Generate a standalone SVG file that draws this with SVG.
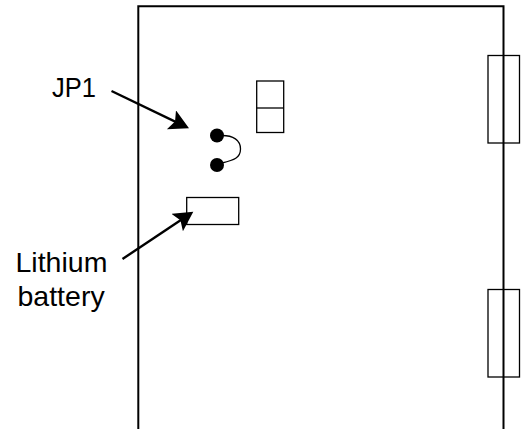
<svg xmlns="http://www.w3.org/2000/svg" width="527" height="429" viewBox="0 0 527 429">
<style>
.thin{fill:none;stroke:#000;stroke-width:1.3}
.thick{fill:none;stroke:#000;stroke-width:2}
.lead{fill:none;stroke:#000;stroke-width:2.4}
.lbl{font-family:"Liberation Sans",Arial,sans-serif;fill:#000}
.sm{font-size:27px}
.lg{font-size:28.5px}
</style>
<defs>
<marker id="arrow" markerUnits="userSpaceOnUse" markerWidth="24" markerHeight="24" refX="14.500" refY="10.500" orient="auto" viewBox="0 0 24 24"><path d="M0 0L19.500 10.500L0 21L4 10.500Z" fill="#000"/></marker>
</defs>
<rect width="527" height="429" fill="#fff"/>
<g id="enclosure"><path class="thick" d="M138.300 429V6.300H503.500V429"/></g>
<g id="hinge-top"><rect class="thin" x="488" y="55.500" width="31.500" height="87.500"/></g>
<g id="hinge-bottom"><rect class="thin" x="488" y="289.500" width="31.500" height="87.500"/></g>
<g id="switch"><rect class="thin" x="256.700" y="81" width="27" height="51.500"/><path class="thin" d="M256.700 108H283.700"/></g>
<g id="jp1"><circle cx="217" cy="135.500" r="7"/><circle cx="217" cy="165" r="7"/><path class="thin" d="M222 135.500C233 135.500 240.500 140 240.500 149C240.500 158 234 160 222 163"/></g>
<g id="battery"><rect class="thin" x="186.700" y="197.500" width="52" height="27"/></g>
<g id="labels"><text class="lbl sm" x="52" y="96.500" textLength="44" lengthAdjust="spacingAndGlyphs">JP1</text><text class="lbl lg" x="15.500" y="271.800">Lithium</text><text class="lbl lg" x="17.500" y="305.500">battery</text></g>
<g id="connectors"><path class="lead" d="M111.500 91L184.500 126.100" marker-end="url(#arrow)"/><path class="lead" d="M122.500 259L189.150 214.470" marker-end="url(#arrow)"/></g>
</svg>
